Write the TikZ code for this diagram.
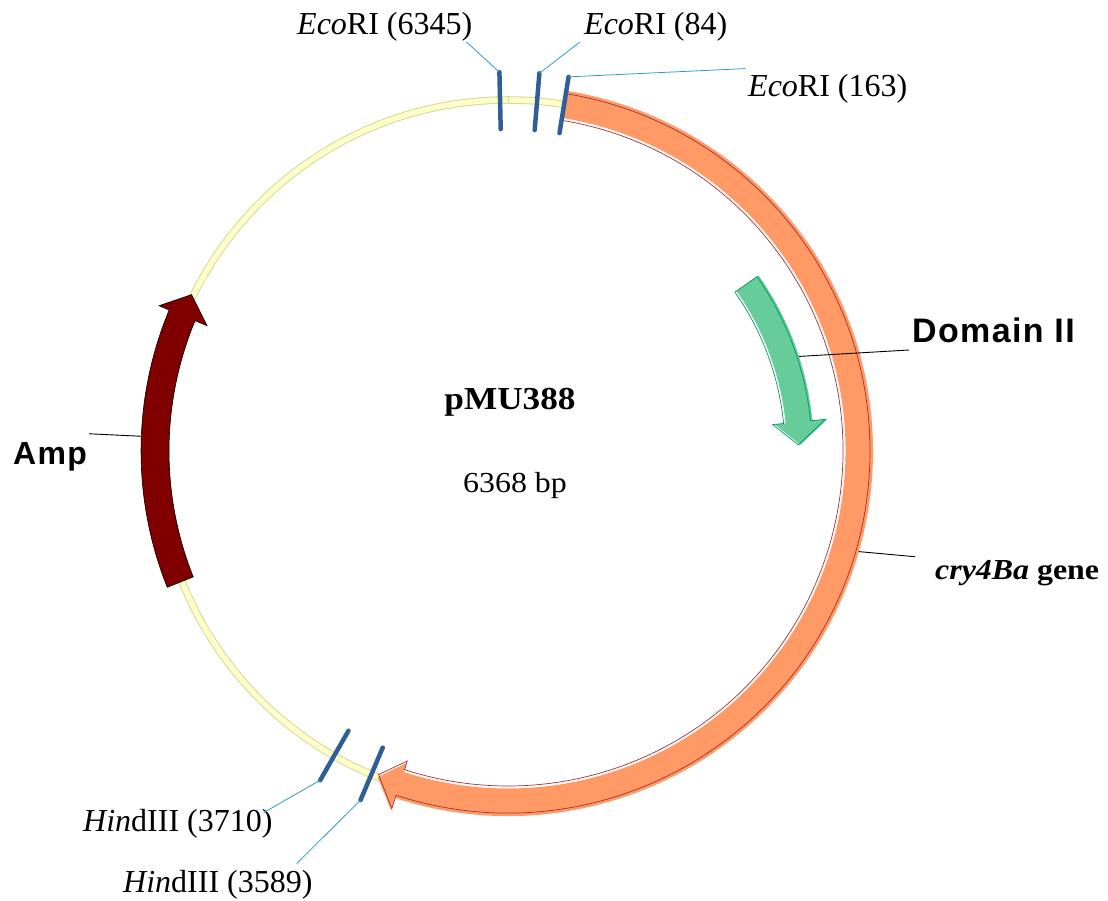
\documentclass[tikz,border=0pt]{standalone}
\usepackage{fontspec}
\setmainfont{Liberation Serif}
\newfontfamily\widefont{Liberation Serif}[FakeStretch=1.1]
\newfontfamily\featfont{Liberation Sans}[LetterSpace=4]
\usepackage{tikz}

\definecolor{genefill}{RGB}{255,153,102}
\definecolor{geneline}{RGB}{160,50,50}
\definecolor{domfill}{RGB}{102,204,153}
\definecolor{domline}{RGB}{0,150,100}
\definecolor{ampfill}{RGB}{128,0,0}
\definecolor{ringfill}{RGB}{255,255,204}
\definecolor{ringline}{RGB}{215,215,150}
\definecolor{sitecol}{RGB}{47,95,150}
\definecolor{leadcol}{RGB}{51,153,204}

\tikzstyle{site} = [sitecol, line width=4.5pt, line cap=round]
\tikzstyle{siteleader} = [leadcol, line width=0.8pt]
\tikzstyle{leader} = [black, line width=0.9pt]
\tikzstyle{sitelabel} = [inner sep=0pt, anchor=base west, font=\fontsize{32}{38}\selectfont]
\tikzstyle{featlabel} = [inner sep=0pt, anchor=base west, font=\featfont\bfseries\fontsize{34}{40}\selectfont]

% #1 style, #2 start, #3 head base, #4 tip, #5/#6 body radii, #7/#8 head radii
\newcommand{\featarrow}[8]{%
  \path[#1] (#2:#5) arc[start angle=#2, end angle=#3, radius=#5] -- (#3:#7)
    -- (#4:{(#5+#6)/2}) -- (#3:#8) -- (#3:#6)
    arc[start angle=#3, end angle=#2, radius=#6] -- cycle;}

\begin{document}
\begin{tikzpicture}[x=1pt,y=1pt]
  \useasboundingbox (0,0) rectangle (1108,900);
  \begin{scope}[shift={(508,449)}]
    % backbone
    \draw[ringline, line width=7.5pt] (0,0) circle (351);
    \draw[ringfill, line width=5.5pt] (0,0) circle (351);
    \draw[ringline, line width=0.5pt] (90:347) -- (90:355);
    % features
    \featarrow{fill=genefill}{80.8}{-108}{-111.8}{337.5}{365}{328}{378}
    \featarrow{draw=geneline, line width=0.7pt}{80.8}{-108}{-111.8}{335}{362}{326}{376}
    \featarrow{fill=domfill}{35}{5.7}{1.2}{279}{306}{268}{321}
    \featarrow{draw=domline, line width=0.7pt}{35}{5.7}{1.2}{277}{304}{266}{319}
    \featarrow{fill=ampfill, draw=black, line width=0.6pt}{201.8}{157.4}{153.7}{339}{367}{326}{378}
    \coordinate (domedge) at (18:306);
    \coordinate (ampedge) at (177.7:367);
    \coordinate (geneedge) at (-16:365);
    % sites
    \foreach \ang/\nm in {91.3/s6345, 85.25/s84, 80.8/s163, -119.7/s3710, -112.9/s3589}
      \draw[site] (\ang:322) -- (\ang:379) coordinate (\nm);
  \end{scope}

  \node[sitelabel] (l6345) at (297,865) {\textit{Eco}RI (6345)};
  \node[sitelabel] (l84) at (584,865) {\textit{Eco}RI (84)};
  \node[sitelabel] (l163) at (748,803) {\textit{Eco}RI (163)};
  \node[sitelabel] (l3710) at (83,69) {\textit{Hin}dIII (3710)};
  \node[sitelabel] (l3589) at (123,8) {\textit{Hin}dIII (3589)};

  \draw[siteleader] (s6345) -- ([xshift=-6pt]l6345.south east);
  \draw[siteleader] (s84) -- ([xshift=-4pt]l84.south west);
  \draw[siteleader] (s163) -- ([xshift=-3pt,yshift=6pt]l163.north west);
  \draw[siteleader] (s3710) -- ([xshift=-9pt,yshift=-4pt]l3710.north east);
  \draw[siteleader] (s3589) -- ([xshift=-16pt,yshift=6pt]l3589.north east);

  \node[featlabel] (dom) at (912,557) {Domain II};
  \node[featlabel, font=\featfont\bfseries\fontsize{32}{38}\selectfont] (amp) at (13,435) {Amp};
  \node[inner sep=0pt, anchor=base west, font=\widefont\bfseries\fontsize{29}{34}\selectfont] (gene) at (935,320) {\textit{cry4Ba} gene};
  \node[anchor=base, font=\widefont\bfseries\fontsize{32}{38}\selectfont] (name) at (510,490) {pMU388};
  \node[anchor=base, font=\widefont\fontsize{29}{34}\selectfont] (size) at (515,407) {6368 bp};

  \draw[leader] (domedge) -- ([xshift=-3pt,yshift=-7pt]dom.base west);
  \draw[leader] (ampedge) -- ([xshift=2pt,yshift=9pt]amp.north east);
  \draw[leader] (geneedge) -- ([xshift=-20pt,yshift=4pt]gene.north west);
\end{tikzpicture}
\end{document}
